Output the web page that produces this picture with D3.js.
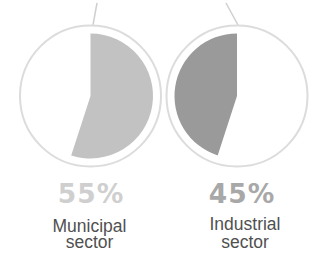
<!DOCTYPE html>
<html>
<head>
<meta charset="utf-8">
<script src="https://cdn.jsdelivr.net/npm/d3@7"></script>
<style>
  body { margin: 0; background: #fff; }
</style>
</head>
<body>
<div id="chart"></div>
<script>
var sectors = ["Municipal sector", "Industrial sector"];
var shares = [55, 45];
var pctLabels = ["55%", "45%"];
var fillColors = ["#c2c2c2", "#9a9a9a"];
var pctColors = ["#cfcfcf", "#a8a8a8"];
// which way the slice runs from 12 o'clock
var direction = [1, -1];

var width = 326, height = 256;
var svg = d3.select("#chart").append("svg")
  .attr("width", width).attr("height", height);

var cx = d3.scalePoint().domain(sectors).range([90.5, 237]);
var cy = 96;
var ringR = 70.5, pieR = 62.5;
var angle = d3.scaleLinear().domain([0, 100]).range([0, 2 * Math.PI]);
var arc = d3.arc().innerRadius(0).outerRadius(pieR);

// connector lines coming in from the top
var leaders = [[97, 3, 93, 25], [226, 3, 238, 25]];
svg.selectAll("line.leader").data(leaders).enter().append("line")
  .attr("class", "leader")
  .attr("x1", function(d) { return d[0]; }).attr("y1", function(d) { return d[1]; })
  .attr("x2", function(d) { return d[2]; }).attr("y2", function(d) { return d[3]; })
  .style("stroke", "#cfcfcf").style("stroke-width", 1.5);

var g = svg.selectAll("g.sector").data(sectors).enter().append("g")
  .attr("class", "sector")
  .attr("transform", function(d) { return "translate(" + cx(d) + "," + cy + ")"; });

g.append("circle").attr("r", ringR)
  .style("fill", "#fff").style("stroke", "#dcdcdc").style("stroke-width", 2);

g.append("path")
  .attr("d", function(d, i) {
    var a = angle(shares[i]);
    return direction[i] > 0
      ? arc({ startAngle: 0, endAngle: a })
      : arc({ startAngle: 2 * Math.PI - a, endAngle: 2 * Math.PI });
  })
  .style("fill", function(d, i) { return fillColors[i]; });

// big percentages
var pctX = [90.5, 241.5];
svg.selectAll("text.pct").data(pctLabels).enter().append("text")
  .attr("class", "pct")
  .attr("x", function(d, i) { return pctX[i] + 0.5; })
  .attr("y", 203)
  .attr("text-anchor", "middle")
  .style("font-family", "DejaVu Sans")
  .style("font-weight", "bold")
  .style("font-size", "26.5px")
  .style("letter-spacing", "1px")
  .style("fill", function(d, i) { return pctColors[i]; })
  .text(function(d) { return d; });

// sector names on two lines
var nameX = [89.5, 245];
var names = svg.selectAll("text.name").data(sectors).enter().append("text")
  .attr("class", "name")
  .attr("text-anchor", "middle")
  .style("font-family", "Liberation Sans, Arial, sans-serif")
  .style("font-size", "17.5px")
  .style("fill", "#505050");
names.append("tspan")
  .attr("x", function(d, i) { return nameX[i]; })
  .attr("y", function(d, i) { return i === 0 ? 232 : 230; })
  .text(function(d) { return d.split(" ")[0]; });
names.append("tspan")
  .attr("x", function(d, i) { return nameX[i]; })
  .attr("y", 247.5)
  .text(function(d) { return d.split(" ")[1]; });
</script>
</body>
</html>
